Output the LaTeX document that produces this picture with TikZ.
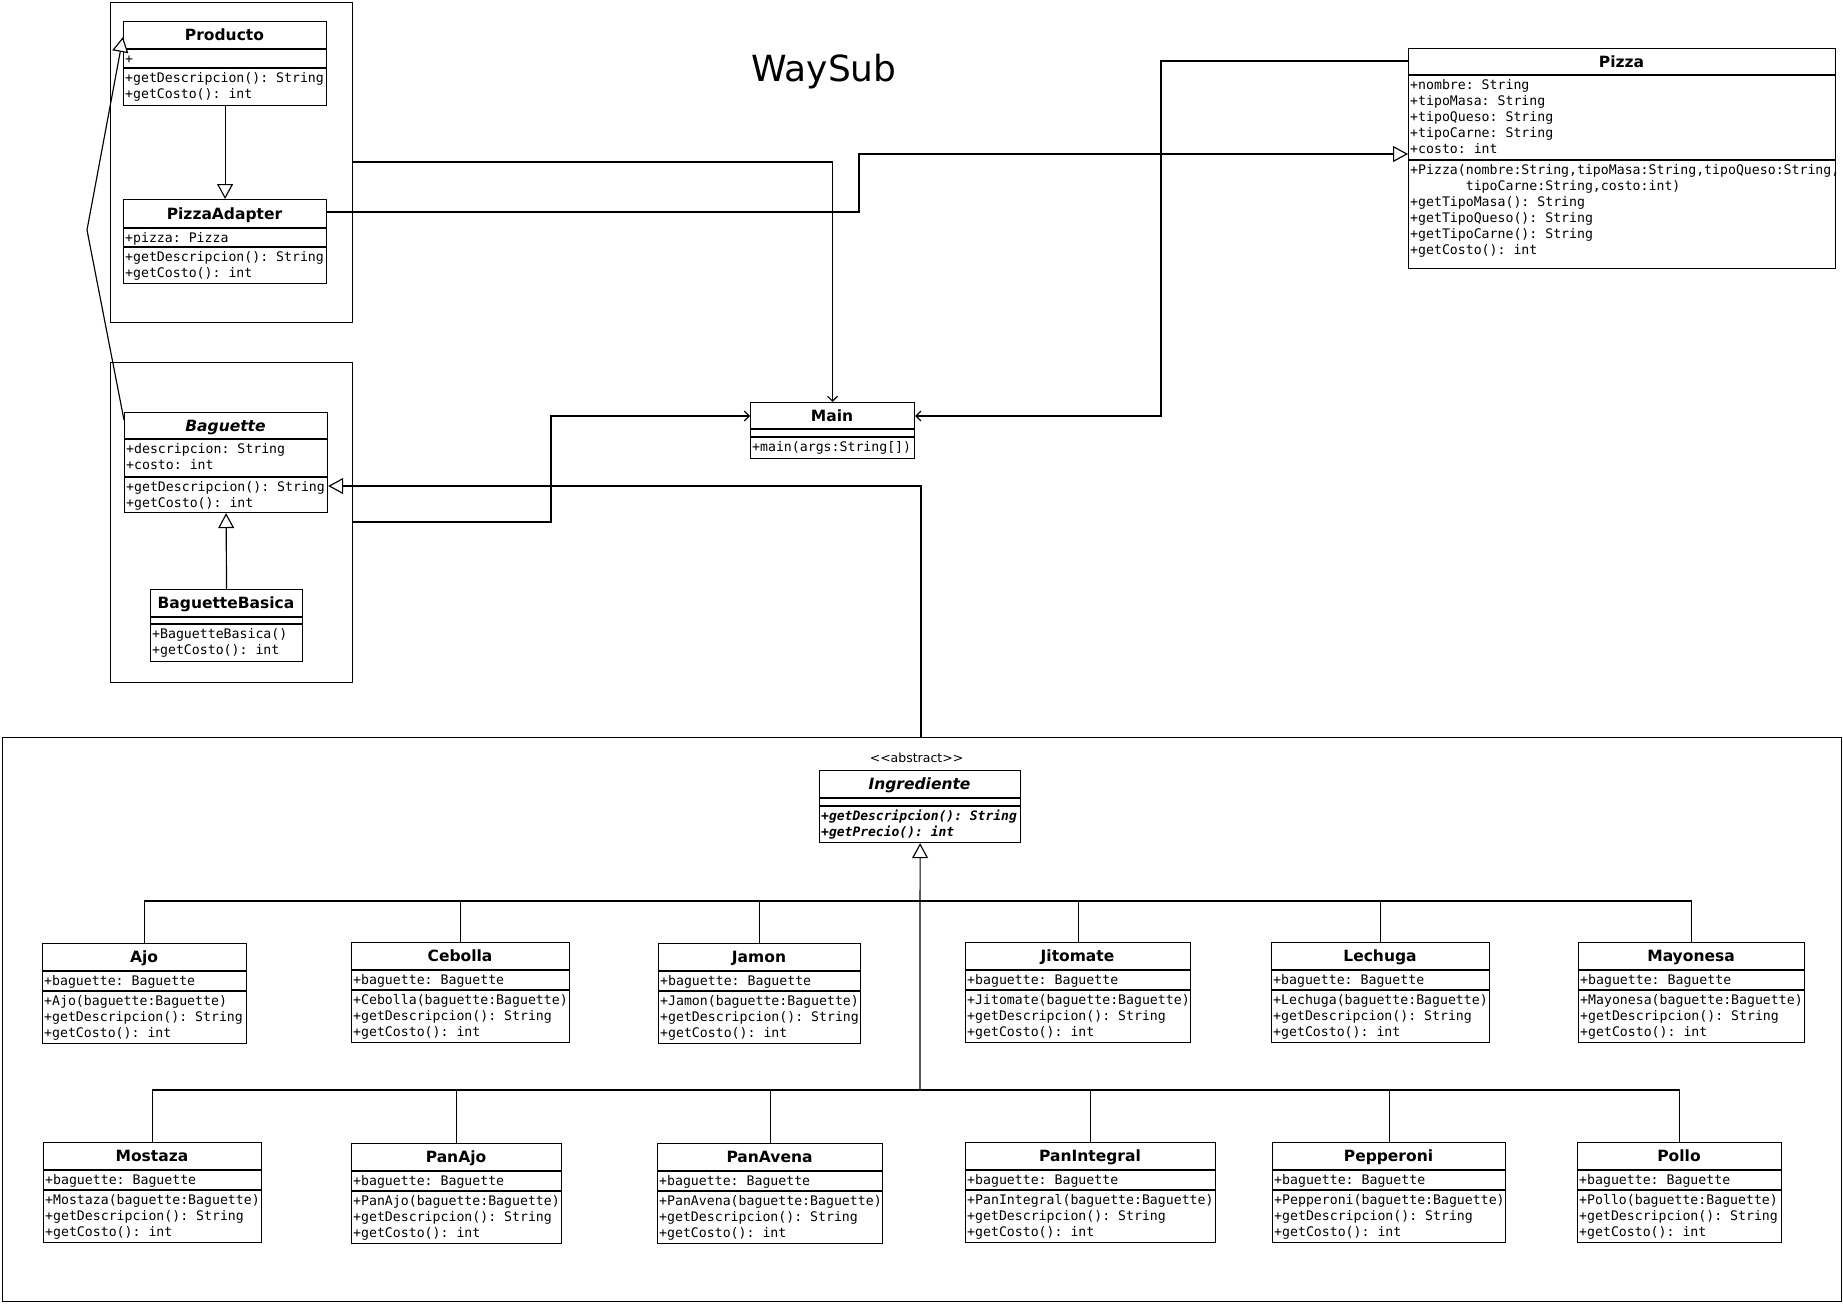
\documentclass[tikz,border=0pt]{standalone}
\usepackage{fontspec}
\setmainfont{DejaVu Sans}
\setmonofont{DejaVu Sans Mono}
\usetikzlibrary{arrows.meta}
\tikzset{
  line/.style={line width=1.15pt},
  cls/.style={draw, line width=1.15pt, inner sep=0pt, fill=white},
  grp/.style={draw, line width=1.15pt, inner sep=0pt},
  ctitle/.style={font=\bfseries\fontsize{15.5}{18}\selectfont, inner sep=0pt},
  atitle/.style={font=\bfseries\itshape\fontsize{15.5}{18}\selectfont, inner sep=0pt},
  mono/.style={font=\ttfamily\fontsize{13.2}{16}\selectfont, inner sep=0pt},
  amono/.style={font=\ttfamily\bfseries\itshape\fontsize{13}{16}\selectfont, inner sep=0pt},
  gen/.style={line, -{Triangle[open, fill=white, length=15pt, width=16pt]}},
  dep/.style={line, -{Straight Barb[length=5pt, width=10pt]}},
}
% #1 name, #2 left, #3 top, #4 right, #5 header sep, #6 attr sep, #7 bottom, #8 title style, #9 title
\newcommand\classbox[9]{%
  \pgfmathsetmacro\myCW{#4-#2}\pgfmathsetmacro\myCH{#7-#3}%
  \node[cls, minimum width=\myCW pt, minimum height=\myCH pt, anchor=north west] (#1) at (#2,#3) {};
  \draw[line] (#2,#5) -- (#4,#5);
  \draw[line] (#2,#6) -- (#4,#6);
  \pgfmathsetmacro\myCX{(#2+#4)/2}\pgfmathsetmacro\myCY{(#3+#5)/2+5.6}%
  \node[#8, anchor=base] (#1-t) at (\myCX,\myCY) {#9};
}
% #1 style, #2 prefix, #3 x, #4 first baseline, #5 list
\newcommand\textlines[5][mono]{%
  \foreach \s [count=\i] in {#5} {
    \node[#1, anchor=base west] (#2-\i) at (#3+2, #4+16*\i-16) {\s};
  }
}
% ingredient class: #1 name, #2 left, #3 top, #4 right, #5 title
\newcommand\ingclass[5]{%
  \pgfmathsetmacro\myHA{#3+28}\pgfmathsetmacro\myHB{#3+48}\pgfmathsetmacro\myHC{#3+100}%
  \classbox{#1}{#2}{#3}{#4}{\myHA}{\myHB}{\myHC}{ctitle}{#5}
  \pgfmathsetmacro\myYA{#3+28+14.5}\pgfmathsetmacro\myYB{#3+48+14.5}%
  \textlines{#1-a}{#2}{\myYA}{+baguette: Baguette}
  \textlines{#1-m}{#2}{\myYB}{{+#5(baguette:Baguette)},{+getDescripcion(): String},{+getCosto(): int}}
}
\begin{document}
\begin{tikzpicture}[x=1pt, y=-1pt]
\useasboundingbox (0,0) rectangle (1843,1303);

% title
\node[font=\fontsize{36}{40}\selectfont, inner sep=0pt, anchor=base] (title) at (824,82) {WaySub};

% group boxes
\node[grp, minimum width=242pt, minimum height=320pt, anchor=north west] (grp1) at (110,2) {};
\node[grp, minimum width=242pt, minimum height=320pt, anchor=north west] (grp2) at (110,362) {};
\node[grp, minimum width=1839pt, minimum height=564pt, anchor=north west] (grp3) at (2,737) {};

% Producto
\classbox{producto}{123}{21}{326}{49}{68}{105}{ctitle}{Producto}
\textlines{producto-a}{123}{63.5}{+}
\textlines{producto-m}{123}{82.5}{{+getDescripcion(): String},{+getCosto(): int}}

% PizzaAdapter
\classbox{padapter}{123}{199}{326}{228}{247}{283}{ctitle}{PizzaAdapter}
\textlines{padapter-a}{123}{242.5}{+pizza: Pizza}
\textlines{padapter-m}{123}{261.5}{{+getDescripcion(): String},{+getCosto(): int}}

% Baguette
\classbox{baguette}{124}{412}{327}{439}{477}{512}{atitle}{Baguette}
\textlines{baguette-a}{124}{453.5}{{+descripcion: String},{+costo: int}}
\textlines{baguette-m}{124}{491.5}{{+getDescripcion(): String},{+getCosto(): int}}

% BaguetteBasica
\classbox{bbasica}{150}{589}{302}{617}{624}{661}{ctitle}{BaguetteBasica}
\textlines{bbasica-m}{150}{638.5}{{+BaguetteBasica()},{+getCosto(): int}}

% Main
\classbox{main}{750}{402}{914}{429}{437}{458}{ctitle}{Main}
\textlines{main-m}{750}{451.5}{{+main(args:String[])}}

% Pizza
\classbox{pizza}{1408}{48}{1835}{75}{160}{268}{ctitle}{Pizza}
\textlines{pizza-a}{1408}{89.5}{{+nombre: String},{+tipoMasa: String},{+tipoQueso: String},{+tipoCarne: String},{+costo: int}}
\textlines{pizza-m}{1408}{174.5}{{+Pizza(nombre:String,tipoMasa:String,tipoQueso:String,},{\phantom{1234567}tipoCarne:String,costo:int)},{+getTipoMasa(): String},{+getTipoQueso(): String},{+getTipoCarne(): String},{+getCosto(): int}}

% Ingrediente
\node[font=\fontsize{12.5}{14}\selectfont, inner sep=0pt, anchor=base] (stereo) at (916.5,762) {<{}<abstract>{}>};
\classbox{ingr}{819}{770}{1020}{798}{806}{842}{atitle}{Ingrediente}
\textlines[amono]{ingr-m}{819}{820.5}{{+getDescripcion(): String},{+getPrecio(): int}}

% ingredient classes, top row
\ingclass{ajo}{42}{943}{246}{Ajo}
\ingclass{cebolla}{351}{942}{569}{Cebolla}
\ingclass{jamon}{658}{943}{860}{Jamon}
\ingclass{jitomate}{965}{942}{1190}{Jitomate}
\ingclass{lechuga}{1271}{942}{1489}{Lechuga}
\ingclass{mayonesa}{1578}{942}{1804}{Mayonesa}
% bottom row
\ingclass{mostaza}{43}{1142}{261}{Mostaza}
\ingclass{panajo}{351}{1143}{561}{PanAjo}
\ingclass{panavena}{657}{1143}{882}{PanAvena}
\ingclass{panintegral}{965}{1142}{1215}{PanIntegral}
\ingclass{pepperoni}{1272}{1142}{1505}{Pepperoni}
\ingclass{pollo}{1577}{1142}{1781}{Pollo}

% inheritance tree to Ingrediente
\coordinate (bus1) at (920,901);
\coordinate (bus2) at (920,1090);
\foreach \c in {ajo,cebolla,jamon,jitomate,lechuga,mayonesa} {
  \draw[line] (\c.north) |- (bus1);
}
\foreach \c in {mostaza,panajo,panavena,panintegral,pepperoni,pollo} {
  \draw[line] (\c.north) |- (bus2);
}
\draw[gen] (bus2) -- (ingr.south);

% other connectors
\draw[gen] (producto.south) -- (padapter.north);
\draw[gen] (bbasica.north) -- (baguette.south);
\draw[gen] (baguette.west |- 0,420) -- (87,230) -- (producto.west |- 0,37);
\draw[gen] (grp3.north -| 921,0) |- (baguette.east |- 0,486);
\draw[gen] (padapter.east |- 0,212) -- (859,212) |- (pizza.west |- 0,154);
\draw[dep] (grp1.east |- 0,162) -| (main.north);
\draw[dep] (grp2.east |- 0,522) -- (551,522) |- (main.west |- 0,416);
\draw[dep] (pizza.west |- 0,61) -- (1161,61) |- (main.east |- 0,416);
\end{tikzpicture}
\end{document}
